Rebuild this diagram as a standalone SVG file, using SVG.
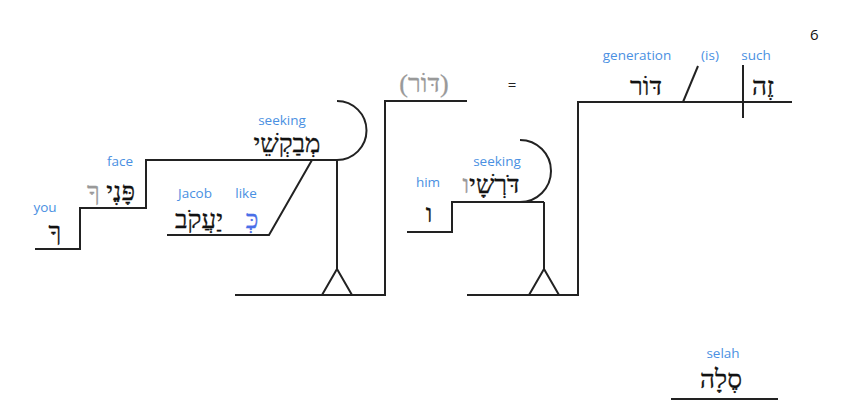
<svg xmlns="http://www.w3.org/2000/svg" width="850" height="418" viewBox="0 0 850 418">
<style>
.ln{fill:none;stroke:#222;stroke-width:2}
.lb{font-family:"Open Sans","Noto Sans",sans-serif;font-size:13.5px;fill:#4a90e2;text-anchor:middle}
.he{font-family:"Liberation Serif","DejaVu Sans",serif;font-size:26px;fill:#111;text-anchor:middle;stroke:#111;stroke-width:0.3}
.gr{fill:#999;stroke:#999}
.bl{fill:#4a6fe8;stroke:#4a6fe8}
.num{font-family:"Open Sans","Noto Sans",sans-serif;font-size:15px;fill:#111}
</style>
<rect width="850" height="418" fill="#fff"/>
<g id="connectors">
<polyline class="ln" points="35,249 80,249 80,208 146,208 146,160 337,160"/>
<path class="ln" d="M337,101 A29.5,29.5 0 0 1 337,160"/>
<line class="ln" x1="337" y1="160" x2="337" y2="269"/>
<path class="ln" d="M322,295 L337,269 L352,295"/>
<polyline class="ln" points="235,295 385,295 385,101 467,101"/>
<polyline class="ln" points="167,235 269,235 312,160"/>
<polyline class="ln" points="407,232 452,232 452,202 544,202"/>
<path class="ln" d="M520,140 A31,31 0 0 1 520,202"/>
<line class="ln" x1="544" y1="202" x2="544" y2="269"/>
<path class="ln" d="M529,295 L544,269 L559,295"/>
<polyline class="ln" points="467,295 578,295 578,102 792,102"/>
<line class="ln" x1="683" y1="102" x2="698" y2="66"/>
<line class="ln" x1="743" y1="65" x2="743" y2="118"/>
<line class="ln" x1="671" y1="399" x2="778" y2="399"/>
</g>
<g id="n-you">
<text class="lb" x="45" y="212">you</text>
<text class="he" x="55" y="240">ךָ</text>
</g>
<g id="n-face">
<text class="lb" x="120" y="166">face</text>
<text class="he" x="111" y="200">פָּנֶי <tspan class="gr">ךָ</tspan></text>
</g>
<g id="n-seeking1">
<text class="lb" x="282" y="125">seeking</text>
<text class="he" x="287" y="152">מְבַקְשֵׁי</text>
</g>
<g id="n-jacob">
<text class="lb" x="195" y="198">Jacob</text>
<text class="he" x="199" y="228">יַעֲקֹב</text>
</g>
<g id="n-like">
<text class="lb" x="246" y="198">like</text>
<text class="he bl" x="252" y="228">כְּ</text>
</g>
<g id="n-dor-implied">
<text class="he gr" x="424" y="92">(דּוֹר)</text>
</g>
<g id="n-equals">
<text class="lb" x="512" y="90" style="fill:#222;font-size:15px">=</text>
</g>
<g id="n-him">
<text class="lb" x="428" y="187">him</text>
<text class="he" x="429" y="222">ו</text>
</g>
<g id="n-seeking2">
<text class="lb" x="497" y="166">seeking</text>
<text class="he" x="491" y="193">דֹּרְשָׁי<tspan class="gr">ו</tspan></text>
</g>
<g id="n-generation">
<text class="lb" x="637" y="60">generation</text>
<text class="he" x="646" y="95">דּוֹר</text>
</g>
<g id="n-is">
<text class="lb" x="710" y="60">(is)</text>
</g>
<g id="n-such">
<text class="lb" x="756" y="60">such</text>
<text class="he" x="763" y="95">זֶה</text>
</g>
<g id="n-selah">
<text class="lb" x="723" y="358">selah</text>
<text class="he" x="721" y="388">סֶלָה</text>
</g>
<text class="num" x="810" y="40">6</text>
</svg>
